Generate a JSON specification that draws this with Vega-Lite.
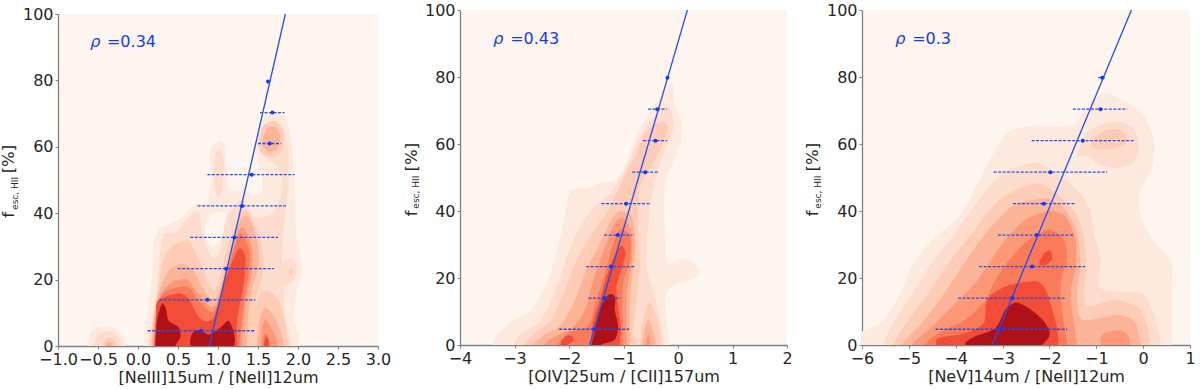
{"$schema":"https://vega.github.io/schema/vega-lite/v6.json","padding":{"left":1,"top":2,"right":0,"bottom":0},"spacing":12,"background":"white",
"config":{"view":{"fill":"#fff5f0","stroke":null},"axis":{"grid":false,"domainColor":"#808080","domainWidth":1.3,"tickColor":"#808080","tickSize":3,"tickWidth":1,"labelFont":"DejaVu Sans","labelFontSize":16,"labelColor":"#262626","labelPadding":2,"labelOverlap":false,"labelFlush":false,"titleFont":"DejaVu Sans","titleFontSize":16,"titleFontWeight":"normal","titleColor":"#262626","titlePadding":2}},
"datasets":{
"c1":[
{"p":"a","l":1,"x":0.079,"y":0},{"p":"a","l":1,"x":0.113,"y":8.6},{"p":"a","l":1,"x":0.175,"y":20.7},{"p":"a","l":1,"x":0.196,"y":30.7},{"p":"a","l":1,"x":0.258,"y":35.2},{"p":"a","l":1,"x":0.383,"y":36.5},{"p":"a","l":1,"x":0.55,"y":38.8},{"p":"a","l":1,"x":0.717,"y":42.8},{"p":"a","l":1,"x":0.883,"y":43.8},{"p":"a","l":1,"x":0.904,"y":58.8},{"p":"a","l":1,"x":1.008,"y":61.8},{"p":"a","l":1,"x":1.092,"y":59.8},{"p":"a","l":1,"x":1.133,"y":47.3},{"p":"a","l":1,"x":1.321,"y":47},{"p":"a","l":1,"x":1.446,"y":45.3},{"p":"a","l":1,"x":1.55,"y":46.8},{"p":"a","l":1,"x":1.55,"y":52.8},{"p":"a","l":1,"x":1.488,"y":55.8},{"p":"a","l":1,"x":1.488,"y":62.9},{"p":"a","l":1,"x":1.592,"y":69.4},{"p":"a","l":1,"x":1.717,"y":70.4},{"p":"a","l":1,"x":1.842,"y":68.9},{"p":"a","l":1,"x":1.925,"y":59.8},{"p":"a","l":1,"x":1.967,"y":43.8},{"p":"a","l":1,"x":1.975,"y":34.7},{"p":"a","l":1,"x":2.05,"y":23.7},{"p":"a","l":1,"x":1.988,"y":16.7},{"p":"a","l":1,"x":1.946,"y":8.6},{"p":"a","l":1,"x":2.008,"y":3.6},{"p":"a","l":1,"x":2.008,"y":0},{"p":"a","l":1,"x":2.008,"y":-4},{"p":"a","l":1,"x":0.079,"y":-4},
{"p":"i1","l":1,"x":-0.625,"y":0},{"p":"i1","l":1,"x":-0.596,"y":4.1},{"p":"i1","l":1,"x":-0.492,"y":5.6},{"p":"i1","l":1,"x":-0.325,"y":5.6},{"p":"i1","l":1,"x":-0.192,"y":3.1},{"p":"i1","l":1,"x":-0.158,"y":0},{"p":"i1","l":1,"x":-0.158,"y":-4},{"p":"i1","l":1,"x":-0.625,"y":-4},
{"p":"h","l":0,"x":0.842,"y":35.7},{"p":"h","l":0,"x":0.925,"y":39.8},{"p":"h","l":0,"x":1.092,"y":39.8},{"p":"h","l":0,"x":1.071,"y":33.7},{"p":"h","l":0,"x":0.925,"y":29.7},{"p":"h","l":0,"x":0.85,"y":32.7},
{"p":"b","l":2,"x":0.121,"y":0},{"p":"b","l":2,"x":0.183,"y":8.6},{"p":"b","l":2,"x":0.238,"y":17.7},{"p":"b","l":2,"x":0.279,"y":28.7},{"p":"b","l":2,"x":0.321,"y":33.7},{"p":"b","l":2,"x":0.467,"y":34.2},{"p":"b","l":2,"x":0.633,"y":38.8},{"p":"b","l":2,"x":0.758,"y":40.3},{"p":"b","l":2,"x":0.808,"y":33.7},{"p":"b","l":2,"x":0.925,"y":26.7},{"p":"b","l":2,"x":1.029,"y":29.2},{"p":"b","l":2,"x":1.113,"y":38.8},{"p":"b","l":2,"x":1.3,"y":44.3},{"p":"b","l":2,"x":1.467,"y":38.8},{"p":"b","l":2,"x":1.696,"y":40.3},{"p":"b","l":2,"x":1.808,"y":47.8},{"p":"b","l":2,"x":1.75,"y":53.8},{"p":"b","l":2,"x":1.592,"y":56.8},{"p":"b","l":2,"x":1.508,"y":59.8},{"p":"b","l":2,"x":1.529,"y":64.9},{"p":"b","l":2,"x":1.654,"y":67.9},{"p":"b","l":2,"x":1.792,"y":66.9},{"p":"b","l":2,"x":1.875,"y":59.8},{"p":"b","l":2,"x":1.875,"y":47.8},{"p":"b","l":2,"x":1.821,"y":35.7},{"p":"b","l":2,"x":1.8,"y":25.7},{"p":"b","l":2,"x":1.821,"y":17.7},{"p":"b","l":2,"x":1.842,"y":8.6},{"p":"b","l":2,"x":1.917,"y":0},{"p":"b","l":2,"x":1.917,"y":-4},{"p":"b","l":2,"x":0.121,"y":-4},
{"p":"i2","l":2,"x":-0.554,"y":0},{"p":"i2","l":2,"x":-0.512,"y":3.1},{"p":"i2","l":2,"x":-0.367,"y":4.6},{"p":"i2","l":2,"x":-0.242,"y":2.6},{"p":"i2","l":2,"x":-0.208,"y":0},{"p":"i2","l":2,"x":-0.208,"y":-4},{"p":"i2","l":2,"x":-0.554,"y":-4},
{"p":"s2","l":2,"x":0.946,"y":51.8},{"p":"s2","l":2,"x":0.967,"y":57.8},{"p":"s2","l":2,"x":1.029,"y":59.3},{"p":"s2","l":2,"x":1.071,"y":55.8},{"p":"s2","l":2,"x":1.058,"y":47.8},{"p":"s2","l":2,"x":1.008,"y":44.8},{"p":"s2","l":2,"x":0.958,"y":47.8},
{"p":"r2","l":2,"x":1.767,"y":21.7},{"p":"r2","l":2,"x":1.842,"y":25.7},{"p":"r2","l":2,"x":1.925,"y":26.5},{"p":"r2","l":2,"x":1.988,"y":23.7},{"p":"r2","l":2,"x":1.946,"y":19.7},{"p":"r2","l":2,"x":1.842,"y":18.2},{"p":"r2","l":2,"x":1.779,"y":18.7},
{"p":"c","l":3,"x":0.15,"y":0},{"p":"c","l":3,"x":0.192,"y":8.6},{"p":"c","l":3,"x":0.258,"y":17.7},{"p":"c","l":3,"x":0.321,"y":26.7},{"p":"c","l":3,"x":0.467,"y":30.7},{"p":"c","l":3,"x":0.633,"y":31.7},{"p":"c","l":3,"x":0.717,"y":28.2},{"p":"c","l":3,"x":0.821,"y":22.7},{"p":"c","l":3,"x":0.946,"y":16.7},{"p":"c","l":3,"x":1.029,"y":21.7},{"p":"c","l":3,"x":1.133,"y":30.7},{"p":"c","l":3,"x":1.258,"y":38.8},{"p":"c","l":3,"x":1.363,"y":40.8},{"p":"c","l":3,"x":1.488,"y":34.7},{"p":"c","l":3,"x":1.571,"y":25.7},{"p":"c","l":3,"x":1.529,"y":18.7},{"p":"c","l":3,"x":1.467,"y":13.7},{"p":"c","l":3,"x":1.488,"y":7.6},{"p":"c","l":3,"x":1.446,"y":0},{"p":"c","l":3,"x":1.446,"y":-4},{"p":"c","l":3,"x":0.15,"y":-4},
{"p":"i3","l":3,"x":-0.45,"y":0},{"p":"i3","l":3,"x":-0.417,"y":1.6},{"p":"i3","l":3,"x":-0.346,"y":2.4},{"p":"i3","l":3,"x":-0.283,"y":1.1},{"p":"i3","l":3,"x":-0.275,"y":0},{"p":"i3","l":3,"x":-0.275,"y":-4},{"p":"i3","l":3,"x":-0.45,"y":-4},
{"p":"t3","l":3,"x":1.508,"y":60.8},{"p":"t3","l":3,"x":1.571,"y":66.4},{"p":"t3","l":3,"x":1.717,"y":67.7},{"p":"t3","l":3,"x":1.821,"y":63.9},{"p":"t3","l":3,"x":1.8,"y":58.8},{"p":"t3","l":3,"x":1.675,"y":56.8},{"p":"t3","l":3,"x":1.55,"y":57.8},
{"p":"u3","l":3,"x":1.458,"y":0},{"p":"u3","l":3,"x":1.488,"y":13.7},{"p":"u3","l":3,"x":1.613,"y":16.7},{"p":"u3","l":3,"x":1.758,"y":13.7},{"p":"u3","l":3,"x":1.842,"y":6.6},{"p":"u3","l":3,"x":1.883,"y":0},{"p":"u3","l":3,"x":1.883,"y":-4},{"p":"u3","l":3,"x":1.458,"y":-4},
{"p":"r3","l":3,"x":1.883,"y":22.5},{"p":"r3","l":3,"x":1.917,"y":23.5},{"p":"r3","l":3,"x":1.942,"y":22.2},{"p":"r3","l":3,"x":1.908,"y":21.5},
{"p":"d","l":4,"x":0.171,"y":0},{"p":"d","l":4,"x":0.208,"y":9.6},{"p":"d","l":4,"x":0.267,"y":16.7},{"p":"d","l":4,"x":0.383,"y":22.7},{"p":"d","l":4,"x":0.55,"y":24.7},{"p":"d","l":4,"x":0.696,"y":22.7},{"p":"d","l":4,"x":0.8,"y":17.7},{"p":"d","l":4,"x":0.946,"y":13.7},{"p":"d","l":4,"x":1.042,"y":18.7},{"p":"d","l":4,"x":1.175,"y":29.7},{"p":"d","l":4,"x":1.279,"y":37.8},{"p":"d","l":4,"x":1.383,"y":38.8},{"p":"d","l":4,"x":1.488,"y":31.7},{"p":"d","l":4,"x":1.508,"y":24.7},{"p":"d","l":4,"x":1.433,"y":17.7},{"p":"d","l":4,"x":1.383,"y":10.6},{"p":"d","l":4,"x":1.363,"y":0},{"p":"d","l":4,"x":1.363,"y":-4},{"p":"d","l":4,"x":0.171,"y":-4},
{"p":"i4","l":4,"x":-0.408,"y":0},{"p":"i4","l":4,"x":-0.367,"y":1.4},{"p":"i4","l":4,"x":-0.317,"y":0},{"p":"i4","l":4,"x":-0.317,"y":-4},{"p":"i4","l":4,"x":-0.408,"y":-4},
{"p":"t4","l":4,"x":1.55,"y":60.8},{"p":"t4","l":4,"x":1.613,"y":65.4},{"p":"t4","l":4,"x":1.717,"y":65.9},{"p":"t4","l":4,"x":1.779,"y":62.9},{"p":"t4","l":4,"x":1.738,"y":59.3},{"p":"t4","l":4,"x":1.633,"y":58.6},
{"p":"u4","l":4,"x":1.488,"y":0},{"p":"u4","l":4,"x":1.517,"y":7.6},{"p":"u4","l":4,"x":1.592,"y":11.6},{"p":"u4","l":4,"x":1.696,"y":9.1},{"p":"u4","l":4,"x":1.779,"y":4.6},{"p":"u4","l":4,"x":1.821,"y":0},{"p":"u4","l":4,"x":1.821,"y":-4},{"p":"u4","l":4,"x":1.488,"y":-4},
{"p":"e","l":5,"x":0.188,"y":0},{"p":"e","l":5,"x":0.225,"y":10.6},{"p":"e","l":5,"x":0.288,"y":15.7},{"p":"e","l":5,"x":0.425,"y":19.2},{"p":"e","l":5,"x":0.613,"y":20.2},{"p":"e","l":5,"x":0.717,"y":16.7},{"p":"e","l":5,"x":0.925,"y":11.6},{"p":"e","l":5,"x":1.029,"y":15.7},{"p":"e","l":5,"x":1.133,"y":24.7},{"p":"e","l":5,"x":1.238,"y":33.7},{"p":"e","l":5,"x":1.321,"y":35.7},{"p":"e","l":5,"x":1.425,"y":29.7},{"p":"e","l":5,"x":1.425,"y":22.7},{"p":"e","l":5,"x":1.363,"y":15.7},{"p":"e","l":5,"x":1.321,"y":7.6},{"p":"e","l":5,"x":1.3,"y":0},{"p":"e","l":5,"x":1.3,"y":-4},{"p":"e","l":5,"x":0.188,"y":-4},
{"p":"u5","l":5,"x":1.529,"y":0},{"p":"u5","l":5,"x":1.55,"y":5.1},{"p":"u5","l":5,"x":1.592,"y":8.1},{"p":"u5","l":5,"x":1.675,"y":5.1},{"p":"u5","l":5,"x":1.738,"y":1.6},{"p":"u5","l":5,"x":1.738,"y":0},{"p":"u5","l":5,"x":1.738,"y":-4},{"p":"u5","l":5,"x":1.529,"y":-4},
{"p":"f","l":6,"x":0.2,"y":0},{"p":"f","l":6,"x":0.242,"y":10.6},{"p":"f","l":6,"x":0.308,"y":15.7},{"p":"f","l":6,"x":0.467,"y":17.5},{"p":"f","l":6,"x":0.633,"y":17.7},{"p":"f","l":6,"x":0.758,"y":13.7},{"p":"f","l":6,"x":0.925,"y":10.1},{"p":"f","l":6,"x":1.017,"y":13.7},{"p":"f","l":6,"x":1.125,"y":22.7},{"p":"f","l":6,"x":1.238,"y":32.2},{"p":"f","l":6,"x":1.3,"y":33.7},{"p":"f","l":6,"x":1.392,"y":28.7},{"p":"f","l":6,"x":1.392,"y":22.7},{"p":"f","l":6,"x":1.333,"y":14.7},{"p":"f","l":6,"x":1.267,"y":0},{"p":"f","l":6,"x":1.267,"y":-4},{"p":"f","l":6,"x":0.2,"y":-4},
{"p":"u6","l":6,"x":1.558,"y":0},{"p":"u6","l":6,"x":1.571,"y":2.6},{"p":"u6","l":6,"x":1.6,"y":3.8},{"p":"u6","l":6,"x":1.642,"y":2.1},{"p":"u6","l":6,"x":1.642,"y":0},{"p":"u6","l":6,"x":1.642,"y":-4},{"p":"u6","l":6,"x":1.558,"y":-4},
{"p":"g","l":7,"x":0.208,"y":0},{"p":"g","l":7,"x":0.225,"y":8.6},{"p":"g","l":7,"x":0.25,"y":13.7},{"p":"g","l":7,"x":0.508,"y":15.9},{"p":"g","l":7,"x":0.633,"y":14.2},{"p":"g","l":7,"x":0.779,"y":8.1},{"p":"g","l":7,"x":0.946,"y":8.6},{"p":"g","l":7,"x":1.092,"y":20.2},{"p":"g","l":7,"x":1.258,"y":29.2},{"p":"g","l":7,"x":1.342,"y":26.7},{"p":"g","l":7,"x":1.321,"y":18.7},{"p":"g","l":7,"x":1.238,"y":7.6},{"p":"g","l":7,"x":1.238,"y":0},{"p":"g","l":7,"x":1.238,"y":-4},{"p":"g","l":7,"x":0.208,"y":-4},
{"p":"u7","l":7,"x":1.575,"y":0},{"p":"u7","l":7,"x":1.592,"y":2.4},{"p":"u7","l":7,"x":1.617,"y":2.6},{"p":"u7","l":7,"x":1.642,"y":0},{"p":"u7","l":7,"x":1.642,"y":-4},{"p":"u7","l":7,"x":1.575,"y":-4},
{"p":"j","l":8,"x":0.217,"y":0},{"p":"j","l":8,"x":0.238,"y":7.6},{"p":"j","l":8,"x":0.3,"y":12.7},{"p":"j","l":8,"x":0.35,"y":11.1},{"p":"j","l":8,"x":0.383,"y":7.6},{"p":"j","l":8,"x":0.508,"y":5.6},{"p":"j","l":8,"x":0.529,"y":2.6},{"p":"j","l":8,"x":0.467,"y":0},{"p":"j","l":8,"x":0.467,"y":-4},{"p":"j","l":8,"x":0.217,"y":-4},
{"p":"k","l":8,"x":0.654,"y":0.6},{"p":"k","l":8,"x":0.675,"y":3.6},{"p":"k","l":8,"x":0.758,"y":4.8},{"p":"k","l":8,"x":0.863,"y":3.6},{"p":"k","l":8,"x":0.904,"y":3.6},{"p":"k","l":8,"x":1.029,"y":5.6},{"p":"k","l":8,"x":1.133,"y":7.6},{"p":"k","l":8,"x":1.196,"y":4.1},{"p":"k","l":8,"x":1.208,"y":1.1},{"p":"k","l":8,"x":1.133,"y":-2},{"p":"k","l":8,"x":0.758,"y":-2}
],
"c2":[
{"p":"a","l":1,"x":-3.42,"y":0},{"p":"a","l":1,"x":-3.3,"y":3.6},{"p":"a","l":1,"x":-2.99,"y":7.6},{"p":"a","l":1,"x":-2.69,"y":10.5},{"p":"a","l":1,"x":-2.38,"y":19.5},{"p":"a","l":1,"x":-2.14,"y":33.4},{"p":"a","l":1,"x":-2.01,"y":44.3},{"p":"a","l":1,"x":-1.89,"y":46.8},{"p":"a","l":1,"x":-1.65,"y":46.8},{"p":"a","l":1,"x":-1.46,"y":48.3},{"p":"a","l":1,"x":-1.16,"y":49.3},{"p":"a","l":1,"x":-0.98,"y":53.3},{"p":"a","l":1,"x":-0.79,"y":61.2},{"p":"a","l":1,"x":-0.58,"y":68.2},{"p":"a","l":1,"x":-0.3,"y":74.2},{"p":"a","l":1,"x":-0.15,"y":78.1},{"p":"a","l":1,"x":-0.08,"y":77.1},{"p":"a","l":1,"x":-0.06,"y":72.2},{"p":"a","l":1,"x":0.06,"y":67.2},{"p":"a","l":1,"x":0.06,"y":61.2},{"p":"a","l":1,"x":-0.12,"y":53.3},{"p":"a","l":1,"x":-0.24,"y":47.3},{"p":"a","l":1,"x":-0.24,"y":33.4},{"p":"a","l":1,"x":-0.18,"y":24.5},{"p":"a","l":1,"x":0.06,"y":25.9},{"p":"a","l":1,"x":0.31,"y":24.5},{"p":"a","l":1,"x":0.39,"y":22},{"p":"a","l":1,"x":0.25,"y":19.5},{"p":"a","l":1,"x":-0.12,"y":17.5},{"p":"a","l":1,"x":-0.24,"y":13.5},{"p":"a","l":1,"x":-0.18,"y":3.6},{"p":"a","l":1,"x":-0.15,"y":0},{"p":"a","l":1,"x":-0.15,"y":-4},{"p":"a","l":1,"x":-3.42,"y":-4},
{"p":"b","l":2,"x":-3.01,"y":0},{"p":"b","l":2,"x":-2.87,"y":3.6},{"p":"b","l":2,"x":-2.56,"y":6.6},{"p":"b","l":2,"x":-2.32,"y":13.5},{"p":"b","l":2,"x":-2.08,"y":24.5},{"p":"b","l":2,"x":-1.83,"y":34.4},{"p":"b","l":2,"x":-1.53,"y":41.4},{"p":"b","l":2,"x":-1.28,"y":44.8},{"p":"b","l":2,"x":-1.1,"y":48.8},{"p":"b","l":2,"x":-0.91,"y":54.3},{"p":"b","l":2,"x":-0.73,"y":61.2},{"p":"b","l":2,"x":-0.49,"y":67.2},{"p":"b","l":2,"x":-0.24,"y":71.2},{"p":"b","l":2,"x":-0.11,"y":69.2},{"p":"b","l":2,"x":-0.09,"y":64.2},{"p":"b","l":2,"x":-0.24,"y":58.3},{"p":"b","l":2,"x":-0.36,"y":52.3},{"p":"b","l":2,"x":-0.49,"y":43.3},{"p":"b","l":2,"x":-0.55,"y":34.4},{"p":"b","l":2,"x":-0.58,"y":23.5},{"p":"b","l":2,"x":-0.43,"y":14.5},{"p":"b","l":2,"x":-0.3,"y":5.6},{"p":"b","l":2,"x":-0.27,"y":0},{"p":"b","l":2,"x":-0.27,"y":-4},{"p":"b","l":2,"x":-3.01,"y":-4},
{"p":"c","l":3,"x":-2.82,"y":0},{"p":"c","l":3,"x":-2.63,"y":3.6},{"p":"c","l":3,"x":-2.32,"y":7.6},{"p":"c","l":3,"x":-2.08,"y":16.5},{"p":"c","l":3,"x":-1.83,"y":26.4},{"p":"c","l":3,"x":-1.53,"y":34.4},{"p":"c","l":3,"x":-1.31,"y":39.4},{"p":"c","l":3,"x":-1.16,"y":44.3},{"p":"c","l":3,"x":-0.98,"y":50.3},{"p":"c","l":3,"x":-0.79,"y":56.3},{"p":"c","l":3,"x":-0.58,"y":63.7},{"p":"c","l":3,"x":-0.3,"y":66.7},{"p":"c","l":3,"x":-0.18,"y":64.7},{"p":"c","l":3,"x":-0.3,"y":59.2},{"p":"c","l":3,"x":-0.49,"y":53.3},{"p":"c","l":3,"x":-0.7,"y":47.3},{"p":"c","l":3,"x":-0.73,"y":35.4},{"p":"c","l":3,"x":-0.7,"y":23.5},{"p":"c","l":3,"x":-0.76,"y":13.5},{"p":"c","l":3,"x":-0.82,"y":3.6},{"p":"c","l":3,"x":-0.73,"y":0},{"p":"c","l":3,"x":-0.73,"y":-4},{"p":"c","l":3,"x":-2.82,"y":-4},
{"p":"u3","l":3,"x":-0.7,"y":0},{"p":"u3","l":3,"x":-0.64,"y":7.6},{"p":"u3","l":3,"x":-0.52,"y":12.7},{"p":"u3","l":3,"x":-0.38,"y":7.6},{"p":"u3","l":3,"x":-0.3,"y":0},{"p":"u3","l":3,"x":-0.3,"y":-4},{"p":"u3","l":3,"x":-0.7,"y":-4},
{"p":"d","l":4,"x":-2.66,"y":0},{"p":"d","l":4,"x":-2.44,"y":3.1},{"p":"d","l":4,"x":-2.14,"y":6.1},{"p":"d","l":4,"x":-1.89,"y":13.5},{"p":"d","l":4,"x":-1.68,"y":22.5},{"p":"d","l":4,"x":-1.46,"y":29.4},{"p":"d","l":4,"x":-1.22,"y":37.4},{"p":"d","l":4,"x":-1.07,"y":39.9},{"p":"d","l":4,"x":-0.85,"y":38.4},{"p":"d","l":4,"x":-0.78,"y":30.4},{"p":"d","l":4,"x":-0.82,"y":23.5},{"p":"d","l":4,"x":-0.88,"y":13.5},{"p":"d","l":4,"x":-0.88,"y":0},{"p":"d","l":4,"x":-0.88,"y":-4},{"p":"d","l":4,"x":-2.66,"y":-4},
{"p":"u4","l":4,"x":-0.66,"y":0},{"p":"u4","l":4,"x":-0.61,"y":4.6},{"p":"u4","l":4,"x":-0.54,"y":7.6},{"p":"u4","l":4,"x":-0.43,"y":2.6},{"p":"u4","l":4,"x":-0.41,"y":0},{"p":"u4","l":4,"x":-0.41,"y":-4},{"p":"u4","l":4,"x":-0.66,"y":-4},
{"p":"e","l":5,"x":-2.46,"y":0},{"p":"e","l":5,"x":-2.26,"y":2.6},{"p":"e","l":5,"x":-1.95,"y":5.1},{"p":"e","l":5,"x":-1.71,"y":10.5},{"p":"e","l":5,"x":-1.53,"y":20.5},{"p":"e","l":5,"x":-1.31,"y":30.4},{"p":"e","l":5,"x":-1.16,"y":36.4},{"p":"e","l":5,"x":-1.01,"y":37.9},{"p":"e","l":5,"x":-0.85,"y":33.4},{"p":"e","l":5,"x":-0.85,"y":24.5},{"p":"e","l":5,"x":-0.94,"y":15.5},{"p":"e","l":5,"x":-0.94,"y":0},{"p":"e","l":5,"x":-0.94,"y":-4},{"p":"e","l":5,"x":-2.46,"y":-4},
{"p":"u5","l":5,"x":-0.59,"y":0},{"p":"u5","l":5,"x":-0.55,"y":3.1},{"p":"u5","l":5,"x":-0.51,"y":1.6},{"p":"u5","l":5,"x":-0.52,"y":0},{"p":"u5","l":5,"x":-0.52,"y":-4},{"p":"u5","l":5,"x":-0.59,"y":-4},
{"p":"f","l":6,"x":-2.2,"y":0},{"p":"f","l":6,"x":-2.01,"y":3.6},{"p":"f","l":6,"x":-1.65,"y":5.6},{"p":"f","l":6,"x":-1.53,"y":11.5},{"p":"f","l":6,"x":-1.34,"y":21.5},{"p":"f","l":6,"x":-1.22,"y":28.4},{"p":"f","l":6,"x":-1.07,"y":34.4},{"p":"f","l":6,"x":-0.88,"y":32.4},{"p":"f","l":6,"x":-0.88,"y":25.4},{"p":"f","l":6,"x":-1.01,"y":18.5},{"p":"f","l":6,"x":-1.02,"y":9.5},{"p":"f","l":6,"x":-1.01,"y":0},{"p":"f","l":6,"x":-1.01,"y":-4},{"p":"f","l":6,"x":-2.2,"y":-4},
{"p":"g","l":7,"x":-1.6,"y":0},{"p":"g","l":7,"x":-1.56,"y":6.6},{"p":"g","l":7,"x":-1.43,"y":13.5},{"p":"g","l":7,"x":-1.31,"y":20.5},{"p":"g","l":7,"x":-1.16,"y":26.9},{"p":"g","l":7,"x":-1.04,"y":29.6},{"p":"g","l":7,"x":-0.96,"y":27.4},{"p":"g","l":7,"x":-1.04,"y":22.5},{"p":"g","l":7,"x":-1.13,"y":17.5},{"p":"g","l":7,"x":-1.1,"y":11.5},{"p":"g","l":7,"x":-1.05,"y":5.6},{"p":"g","l":7,"x":-1.07,"y":0},{"p":"g","l":7,"x":-1.07,"y":-4},{"p":"g","l":7,"x":-1.6,"y":-4},
{"p":"m7","l":7,"x":-2.14,"y":1.1},{"p":"m7","l":7,"x":-2.04,"y":2.8},{"p":"m7","l":7,"x":-1.94,"y":2.6},{"p":"m7","l":7,"x":-1.93,"y":1.1},{"p":"m7","l":7,"x":-2.04,"y":0},{"p":"m7","l":7,"x":-2.14,"y":0},
{"p":"j","l":8,"x":-1.59,"y":0},{"p":"j","l":8,"x":-1.53,"y":3.6},{"p":"j","l":8,"x":-1.46,"y":9.5},{"p":"j","l":8,"x":-1.31,"y":14.5},{"p":"j","l":8,"x":-1.22,"y":15.2},{"p":"j","l":8,"x":-1.15,"y":14},{"p":"j","l":8,"x":-1.16,"y":10.5},{"p":"j","l":8,"x":-1.1,"y":5.6},{"p":"j","l":8,"x":-1.16,"y":1.6},{"p":"j","l":8,"x":-1.4,"y":0.2},{"p":"j","l":8,"x":-1.59,"y":-2}
],
"c3":[
{"p":"a","l":1,"x":-6.5,"y":2},{"p":"a","l":1,"x":-6,"y":4.1},{"p":"a","l":1,"x":-5.57,"y":7.1},{"p":"a","l":1,"x":-5.22,"y":14.5},{"p":"a","l":1,"x":-4.93,"y":23.5},{"p":"a","l":1,"x":-4.5,"y":31.4},{"p":"a","l":1,"x":-3.93,"y":38.4},{"p":"a","l":1,"x":-3.51,"y":48.8},{"p":"a","l":1,"x":-3.08,"y":60.2},{"p":"a","l":1,"x":-2.79,"y":64.2},{"p":"a","l":1,"x":-2.37,"y":65.4},{"p":"a","l":1,"x":-1.8,"y":65.4},{"p":"a","l":1,"x":-1.44,"y":66.2},{"p":"a","l":1,"x":-1.09,"y":73.2},{"p":"a","l":1,"x":-0.77,"y":75.2},{"p":"a","l":1,"x":-0.52,"y":73.7},{"p":"a","l":1,"x":-0.02,"y":69.2},{"p":"a","l":1,"x":0.23,"y":61.2},{"p":"a","l":1,"x":0.2,"y":53.3},{"p":"a","l":1,"x":-0.09,"y":44.3},{"p":"a","l":1,"x":-0.02,"y":37.4},{"p":"a","l":1,"x":0.27,"y":30.4},{"p":"a","l":1,"x":0.61,"y":24.5},{"p":"a","l":1,"x":0.61,"y":13.5},{"p":"a","l":1,"x":0.62,"y":0},{"p":"a","l":1,"x":0.62,"y":-5},{"p":"a","l":1,"x":-6.5,"y":-5},
{"p":"b","l":2,"x":-5.55,"y":0},{"p":"b","l":2,"x":-5.29,"y":7.6},{"p":"b","l":2,"x":-4.93,"y":15.5},{"p":"b","l":2,"x":-4.5,"y":24.5},{"p":"b","l":2,"x":-4.01,"y":33.4},{"p":"b","l":2,"x":-3.51,"y":43.3},{"p":"b","l":2,"x":-3.01,"y":51.3},{"p":"b","l":2,"x":-2.51,"y":53.8},{"p":"b","l":2,"x":-2.19,"y":54.1},{"p":"b","l":2,"x":-1.66,"y":49.3},{"p":"b","l":2,"x":-1.19,"y":42.3},{"p":"b","l":2,"x":-1.05,"y":33.4},{"p":"b","l":2,"x":-0.91,"y":25.4},{"p":"b","l":2,"x":-0.94,"y":17.5},{"p":"b","l":2,"x":-0.52,"y":16},{"p":"b","l":2,"x":-0.02,"y":15.5},{"p":"b","l":2,"x":0.2,"y":10.5},{"p":"b","l":2,"x":0.34,"y":3.6},{"p":"b","l":2,"x":0.37,"y":0},{"p":"b","l":2,"x":0.37,"y":-5},{"p":"b","l":2,"x":-5.55,"y":-5},
{"p":"t2","l":2,"x":-1.41,"y":56.8},{"p":"t2","l":2,"x":-1.16,"y":63.8},{"p":"t2","l":2,"x":-0.59,"y":66.7},{"p":"t2","l":2,"x":-0.2,"y":64.7},{"p":"t2","l":2,"x":-0.09,"y":59.2},{"p":"t2","l":2,"x":-0.23,"y":54.3},{"p":"t2","l":2,"x":-0.59,"y":52.8},{"p":"t2","l":2,"x":-0.94,"y":53.8},{"p":"t2","l":2,"x":-1.16,"y":56.3},
{"p":"c","l":3,"x":-5.34,"y":0},{"p":"c","l":3,"x":-5,"y":7.6},{"p":"c","l":3,"x":-4.58,"y":15.5},{"p":"c","l":3,"x":-4.15,"y":24.5},{"p":"c","l":3,"x":-3.65,"y":33.4},{"p":"c","l":3,"x":-3.15,"y":42.3},{"p":"c","l":3,"x":-2.72,"y":46.3},{"p":"c","l":3,"x":-2.23,"y":48.3},{"p":"c","l":3,"x":-1.87,"y":45.3},{"p":"c","l":3,"x":-1.44,"y":39.4},{"p":"c","l":3,"x":-1.26,"y":31.4},{"p":"c","l":3,"x":-1.21,"y":23.5},{"p":"c","l":3,"x":-1.26,"y":15.5},{"p":"c","l":3,"x":-1.16,"y":11.5},{"p":"c","l":3,"x":-0.59,"y":13.5},{"p":"c","l":3,"x":-0.09,"y":11},{"p":"c","l":3,"x":0.09,"y":5.6},{"p":"c","l":3,"x":0.14,"y":0},{"p":"c","l":3,"x":0.14,"y":-5},{"p":"c","l":3,"x":-5.34,"y":-5},
{"p":"t3","l":3,"x":-1.09,"y":61.2},{"p":"t3","l":3,"x":-0.8,"y":64},{"p":"t3","l":3,"x":-0.52,"y":64.4},{"p":"t3","l":3,"x":-0.34,"y":62.2},{"p":"t3","l":3,"x":-0.41,"y":59.7},{"p":"t3","l":3,"x":-0.73,"y":58.4},{"p":"t3","l":3,"x":-1.05,"y":58.7},
{"p":"d","l":4,"x":-5.15,"y":0},{"p":"d","l":4,"x":-4.72,"y":6.6},{"p":"d","l":4,"x":-4.29,"y":14.5},{"p":"d","l":4,"x":-3.86,"y":23.5},{"p":"d","l":4,"x":-3.36,"y":33.4},{"p":"d","l":4,"x":-2.8,"y":41.4},{"p":"d","l":4,"x":-2.37,"y":43.3},{"p":"d","l":4,"x":-2.01,"y":43.6},{"p":"d","l":4,"x":-1.66,"y":40.4},{"p":"d","l":4,"x":-1.41,"y":33.4},{"p":"d","l":4,"x":-1.34,"y":23.5},{"p":"d","l":4,"x":-1.41,"y":15.5},{"p":"d","l":4,"x":-1.3,"y":7.6},{"p":"d","l":4,"x":-0.52,"y":9},{"p":"d","l":4,"x":-0.16,"y":6.6},{"p":"d","l":4,"x":-0.05,"y":0},{"p":"d","l":4,"x":-0.05,"y":-5},{"p":"d","l":4,"x":-5.15,"y":-5},
{"p":"e","l":5,"x":-4.93,"y":0},{"p":"e","l":5,"x":-4.5,"y":5.6},{"p":"e","l":5,"x":-4.01,"y":12.5},{"p":"e","l":5,"x":-3.58,"y":18.5},{"p":"e","l":5,"x":-3.29,"y":24.5},{"p":"e","l":5,"x":-2.94,"y":31.4},{"p":"e","l":5,"x":-2.51,"y":37.4},{"p":"e","l":5,"x":-2.01,"y":39.9},{"p":"e","l":5,"x":-1.66,"y":38.4},{"p":"e","l":5,"x":-1.44,"y":31.4},{"p":"e","l":5,"x":-1.44,"y":23.5},{"p":"e","l":5,"x":-1.55,"y":15.5},{"p":"e","l":5,"x":-1.48,"y":6.6},{"p":"e","l":5,"x":-1.41,"y":0},{"p":"e","l":5,"x":-1.41,"y":-5},{"p":"e","l":5,"x":-4.93,"y":-5},
{"p":"u5","l":5,"x":-0.91,"y":0},{"p":"u5","l":5,"x":-0.87,"y":3.1},{"p":"u5","l":5,"x":-0.52,"y":4.4},{"p":"u5","l":5,"x":-0.34,"y":3.1},{"p":"u5","l":5,"x":-0.29,"y":1.1},{"p":"u5","l":5,"x":-0.29,"y":-5},{"p":"u5","l":5,"x":-0.91,"y":-5},
{"p":"f","l":6,"x":-4.66,"y":0},{"p":"f","l":6,"x":-4.36,"y":3.6},{"p":"f","l":6,"x":-3.79,"y":7.6},{"p":"f","l":6,"x":-3.36,"y":13.5},{"p":"f","l":6,"x":-3.15,"y":19.5},{"p":"f","l":6,"x":-2.79,"y":26.4},{"p":"f","l":6,"x":-2.44,"y":31.4},{"p":"f","l":6,"x":-2.01,"y":34.4},{"p":"f","l":6,"x":-1.69,"y":31.4},{"p":"f","l":6,"x":-1.63,"y":25.4},{"p":"f","l":6,"x":-1.76,"y":18.5},{"p":"f","l":6,"x":-1.73,"y":10.5},{"p":"f","l":6,"x":-1.62,"y":0},{"p":"f","l":6,"x":-1.62,"y":-5},{"p":"f","l":6,"x":-4.66,"y":-5},
{"p":"g","l":7,"x":-4.42,"y":0},{"p":"g","l":7,"x":-4.36,"y":2.1},{"p":"g","l":7,"x":-3.79,"y":3.6},{"p":"g","l":7,"x":-3.4,"y":6.6},{"p":"g","l":7,"x":-3.33,"y":13.5},{"p":"g","l":7,"x":-2.94,"y":17.5},{"p":"g","l":7,"x":-2.3,"y":19},{"p":"g","l":7,"x":-2.08,"y":16.5},{"p":"g","l":7,"x":-1.94,"y":10.5},{"p":"g","l":7,"x":-1.83,"y":4.6},{"p":"g","l":7,"x":-1.81,"y":0},{"p":"g","l":7,"x":-1.81,"y":-5},{"p":"g","l":7,"x":-4.42,"y":-5},
{"p":"m7","l":7,"x":-2.21,"y":24.5},{"p":"m7","l":7,"x":-2.12,"y":27.4},{"p":"m7","l":7,"x":-1.98,"y":28.2},{"p":"m7","l":7,"x":-1.94,"y":25.9},{"p":"m7","l":7,"x":-2.05,"y":24},{"p":"m7","l":7,"x":-2.19,"y":23.8},
{"p":"j","l":8,"x":-3.79,"y":0.6},{"p":"j","l":8,"x":-3.58,"y":2.6},{"p":"j","l":8,"x":-3.15,"y":5.1},{"p":"j","l":8,"x":-2.94,"y":10.5},{"p":"j","l":8,"x":-2.72,"y":12.7},{"p":"j","l":8,"x":-2.44,"y":11},{"p":"j","l":8,"x":-2.15,"y":7.6},{"p":"j","l":8,"x":-2,"y":4.1},{"p":"j","l":8,"x":-2.05,"y":1.6},{"p":"j","l":8,"x":-2.37,"y":-1},{"p":"j","l":8,"x":-3.6,"y":-1}
]},
"hconcat":[
{"spacing":-9,"vconcat":[
{"width":320,"height":1,"view":{"fill":null,"stroke":null},"data":{"values":[{"x":0}]},"mark":{"type":"point","opacity":0},"encoding":{"x":{"field":"x","type":"quantitative","axis":null}}},
{"width":320,"height":332,
"encoding":{"x":{"field":"x","type":"quantitative","scale":{"domain":[-1,3],"nice":false,"zero":false},"axis":{"values":[-1,-0.5,0,0.5,1,1.5,2,2.5,3],"format":".1f"},"title":"[NeIII]15um / [NeII]12um"},"y":{"field":"y","type":"quantitative","scale":{"domain":[0,100],"nice":false},"axis":{"values":[0,20,40,60,80,100]},"title":null}},
"layer":[
{"data":{"name":"c1"},"mark":{"type":"line","filled":true,"interpolate":"cardinal-closed","tension":0.2,"clip":true,"strokeWidth":0},"encoding":{"detail":{"field":"p"},"order":{"value":null},"fill":{"field":"l","type":"ordinal","legend":null,"scale":{"domain":[0,1,2,3,4,5,6,7,8],"range":["#fff5f0","#fee9df","#fedccd","#fdcbb6","#fcb499","#fc9777","#fb7a5a","#f34c37","#ae1117"]}}}},
{"data":{"values":[{"x":0.892,"y":0},{"x":1.842,"y":100}]},"mark":{"type":"line","color":"#2050f0","strokeWidth":1.3,"clip":true},"encoding":{"order":{"value":null}}},
{"data":{"values":[{"x":1.525,"hi":1.833,"y":70.3},{"x":1.5,"hi":1.79,"y":61},{"x":0.867,"hi":1.958,"y":51.6},{"x":0.746,"hi":1.85,"y":42.2},{"x":0.654,"hi":1.75,"y":32.7},{"x":0.496,"hi":1.7,"y":23.3},{"x":0.267,"hi":1.467,"y":13.9},{"x":0.121,"hi":1.467,"y":4.6}]},"mark":{"type":"rule","color":"#2050f0","strokeWidth":1.3,"strokeDash":[3,1.5]},"encoding":{"x2":{"field":"hi"}}},
{"data":{"values":[{"x":1.625,"y":79.7},{"x":1.68,"y":70.3},{"x":1.646,"y":61},{"x":1.42,"y":51.6},{"x":1.3,"y":42.2},{"x":1.204,"y":32.7},{"x":1.1,"y":23.3},{"x":0.867,"y":13.9},{"x":0.788,"y":4.6}]},"mark":{"type":"circle","color":"#0a3cff","size":16,"opacity":1}},
{"data":{"values":[{"x":-0.596,"y":90,"t":"ρ"}]},"mark":{"type":"text","font":"DejaVu Sans","fontStyle":"italic","fontSize":16,"color":"#0a3cff","align":"left","baseline":"alphabetic"},"encoding":{"text":{"field":"t"}}},
{"data":{"values":[{"x":-0.388,"y":90,"t":"=0.34"}]},"mark":{"type":"text","font":"DejaVu Sans","fontSize":16,"color":"#0a3cff","align":"left","baseline":"alphabetic"},"encoding":{"text":{"field":"t"}}},
{"data":{"values":[{"x":-1.546,"y":38.6,"t":"f"},{"x":-1.546,"y":52,"t":"[%]"}]},"mark":{"type":"text","font":"DejaVu Sans","fontSize":16.5,"color":"#262626","angle":270,"align":"left","baseline":"alphabetic"},"encoding":{"text":{"field":"t"}}},
{"data":{"values":[{"x":-1.504,"y":41,"t":"esc, HII"}]},"mark":{"type":"text","font":"DejaVu Sans","fontSize":9,"color":"#262626","angle":270,"align":"left","baseline":"alphabetic"},"encoding":{"text":{"field":"t"}}}
]}]},
{"width":327,"height":335,
"encoding":{"x":{"field":"x","type":"quantitative","scale":{"domain":[-4,2],"nice":false,"zero":false},"axis":{"values":[-4,-3,-2,-1,0,1,2],"format":"d"},"title":"[OIV]25um / [CII]157um"},"y":{"field":"y","type":"quantitative","scale":{"domain":[0,100],"nice":false},"axis":{"values":[0,20,40,60,80,100]},"title":null}},
"layer":[
{"data":{"name":"c2"},"mark":{"type":"line","filled":true,"interpolate":"cardinal-closed","tension":0.2,"clip":true,"strokeWidth":0},"encoding":{"detail":{"field":"p"},"order":{"value":null},"fill":{"field":"l","type":"ordinal","legend":null,"scale":{"domain":[0,1,2,3,4,5,6,7,8],"range":["#fff5f0","#fee9df","#fedccd","#fdcbb6","#fcb499","#fc9777","#fb7a5a","#f34c37","#ae1117"]}}}},
{"data":{"values":[{"x":-1.62,"y":0},{"x":0.172,"y":100}]},"mark":{"type":"line","color":"#2050f0","strokeWidth":1.3,"clip":true},"encoding":{"order":{"value":null}}},
{"data":{"values":[{"x":-0.549,"hi":-0.206,"y":70.4},{"x":-0.64,"hi":-0.2,"y":61},{"x":-0.84,"hi":-0.347,"y":51.6},{"x":-1.404,"hi":-0.506,"y":42.2},{"x":-1.355,"hi":-0.836,"y":32.8},{"x":-1.685,"hi":-0.793,"y":23.4},{"x":-1.642,"hi":-1.056,"y":14},{"x":-2.18,"hi":-0.897,"y":4.7}]},"mark":{"type":"rule","color":"#2050f0","strokeWidth":1.3,"strokeDash":[3,1.5]},"encoding":{"x2":{"field":"hi"}}},
{"data":{"values":[{"x":-0.194,"y":79.8},{"x":-0.378,"y":70.4},{"x":-0.414,"y":61},{"x":-0.6,"y":51.6},{"x":-0.952,"y":42.2},{"x":-1.105,"y":32.8},{"x":-1.233,"y":23.4},{"x":-1.355,"y":14},{"x":-1.538,"y":4.7}]},"mark":{"type":"circle","color":"#0a3cff","size":16,"opacity":1}},
{"data":{"values":[{"x":-3.39,"y":90,"t":"ρ"}]},"mark":{"type":"text","font":"DejaVu Sans","fontStyle":"italic","fontSize":16,"color":"#0a3cff","align":"left","baseline":"alphabetic"},"encoding":{"text":{"field":"t"}}},
{"data":{"values":[{"x":-3.08,"y":90,"t":"=0.43"}]},"mark":{"type":"text","font":"DejaVu Sans","fontSize":16,"color":"#0a3cff","align":"left","baseline":"alphabetic"},"encoding":{"text":{"field":"t"}}},
{"data":{"values":[{"x":-4.79,"y":38.4,"t":"f"},{"x":-4.79,"y":51.8,"t":"[%]"}]},"mark":{"type":"text","font":"DejaVu Sans","fontSize":16.5,"color":"#262626","angle":270,"align":"left","baseline":"alphabetic"},"encoding":{"text":{"field":"t"}}},
{"data":{"values":[{"x":-4.745,"y":40.7,"t":"esc, HII"}]},"mark":{"type":"text","font":"DejaVu Sans","fontSize":9,"color":"#262626","angle":270,"align":"left","baseline":"alphabetic"},"encoding":{"text":{"field":"t"}}}
]},
{"width":328,"height":335,
"encoding":{"x":{"field":"x","type":"quantitative","scale":{"domain":[-6,1],"nice":false,"zero":false},"axis":{"values":[-6,-5,-4,-3,-2,-1,0,1],"format":"d"},"title":"[NeV]14um / [NeII]12um"},"y":{"field":"y","type":"quantitative","scale":{"domain":[0,100],"nice":false},"axis":{"values":[0,20,40,60,80,100]},"title":null}},
"layer":[
{"data":{"name":"c3"},"mark":{"type":"line","filled":true,"interpolate":"cardinal-closed","tension":0.2,"clip":true,"strokeWidth":0},"encoding":{"detail":{"field":"p"},"order":{"value":null},"fill":{"field":"l","type":"ordinal","legend":null,"scale":{"domain":[0,1,2,3,4,5,6,7,8],"range":["#fff5f0","#fee9df","#fedccd","#fdcbb6","#fcb499","#fc9777","#fb7a5a","#f34c37","#ae1117"]}}}},
{"data":{"values":[{"x":-3.22,"y":0},{"x":-0.25,"y":100}]},"mark":{"type":"line","color":"#2050f0","strokeWidth":1.3,"clip":true},"encoding":{"order":{"value":null}}},
{"data":{"values":[{"x":-0.96,"hi":-0.82,"y":79.8},{"x":-1.5,"hi":-0.34,"y":70.4},{"x":-2.38,"hi":-0.2,"y":61},{"x":-3.19,"hi":-0.77,"y":51.6},{"x":-2.78,"hi":-1.46,"y":42.2},{"x":-3.1,"hi":-1.48,"y":32.8},{"x":-3.5,"hi":-1.24,"y":23.4},{"x":-3.95,"hi":-1.66,"y":14},{"x":-4.43,"hi":-1.62,"y":4.7}]},"mark":{"type":"rule","color":"#2050f0","strokeWidth":1.3,"strokeDash":[3,1.5]},"encoding":{"x2":{"field":"hi"}}},
{"data":{"values":[{"x":-0.87,"y":79.8},{"x":-0.91,"y":70.4},{"x":-1.29,"y":61},{"x":-1.98,"y":51.6},{"x":-2.12,"y":42.2},{"x":-2.27,"y":32.8},{"x":-2.37,"y":23.4},{"x":-2.79,"y":14},{"x":-3.02,"y":4.7}]},"mark":{"type":"circle","color":"#0a3cff","size":16,"opacity":1}},
{"data":{"values":[{"x":-5.29,"y":90,"t":"ρ"}]},"mark":{"type":"text","font":"DejaVu Sans","fontStyle":"italic","fontSize":16,"color":"#0a3cff","align":"left","baseline":"alphabetic"},"encoding":{"text":{"field":"t"}}},
{"data":{"values":[{"x":-4.93,"y":90,"t":"=0.3"}]},"mark":{"type":"text","font":"DejaVu Sans","fontSize":16,"color":"#0a3cff","align":"left","baseline":"alphabetic"},"encoding":{"text":{"field":"t"}}},
{"data":{"values":[{"x":-6.93,"y":38.4,"t":"f"},{"x":-6.93,"y":51.8,"t":"[%]"}]},"mark":{"type":"text","font":"DejaVu Sans","fontSize":16.5,"color":"#262626","angle":270,"align":"left","baseline":"alphabetic"},"encoding":{"text":{"field":"t"}}},
{"data":{"values":[{"x":-6.87,"y":40.7,"t":"esc, HII"}]},"mark":{"type":"text","font":"DejaVu Sans","fontSize":9,"color":"#262626","angle":270,"align":"left","baseline":"alphabetic"},"encoding":{"text":{"field":"t"}}}
]}
]}
